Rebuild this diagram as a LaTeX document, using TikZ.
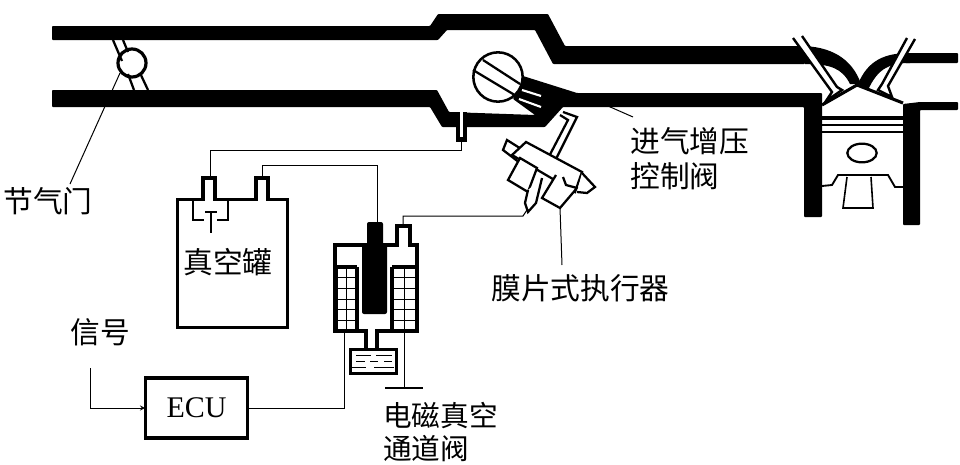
\documentclass[tikz,border=0pt]{standalone}
\usepackage{fontspec}
\usetikzlibrary{shapes.geometric}
\setmainfont{Liberation Serif}
\newfontfamily\cjk{Noto Sans CJK SC}
\tikzset{
  wall/.style={line width=2.3pt, line join=miter},
  thinwall/.style={line width=1.7pt},
  stem/.style={line width=1.8pt, fill=white},
  wire/.style={line width=.75pt},
  lbl/.style={inner sep=0pt, font=\cjk\fontsize{22.3}{26}\selectfont, align=left},
  pipe/.style={fill=black, rounded corners=.6pt}
}
\begin{document}
\begin{tikzpicture}[x=.75pt, y=-.75pt]
\useasboundingbox (0,0) rectangle (960,464);

% intake pipe
\fill[pipe] (52,26) -- (430,26) -- (438,14) -- (548,14) -- (565,46) -- (805,46) -- (805,64) -- (553,64) -- (535,30) -- (447,30) -- (438,40) -- (52,40) -- cycle;
\fill[pipe] (52,90) -- (437,90) -- (449,112) -- (535,115) -- (513,99) -- (523,76) -- (577,93) -- (804,93) -- (822,93) -- (822,217) -- (804,217) -- (804,107) -- (563,107) -- (545,127) -- (442,127) -- (430,107) -- (52,107) -- cycle;
\fill[pipe] (903,104) -- (920,102) -- (958,102) -- (958,110) -- (920,110) -- (920,225) -- (903,225) -- cycle;
\fill[pipe] (905,53) -- (958,53) -- (958,63) -- (905,63) -- cycle;

% ports to the cylinder
\fill (800,46) .. controls (830,46) and (852,58) .. (861,84) -- (850,84) .. controls (842,68) and (830,64) .. (805,64) -- cycle;
\fill (858,84) .. controls (868,60) and (885,53) .. (910,53) -- (910,63) .. controls (890,63) and (878,68) .. (868,90) -- cycle;

% bypass slot under the pipe
\fill[black] (456,112) rectangle (467,142);
\draw[white, line width=2.2pt] (461.5,110) -- (461.5,137);

% throttle
\node (throttle) [circle, draw, fill=white, line width=2.4pt, minimum size=21pt, inner sep=0pt] at (132,63) {};
\draw[thinwall] (113,40) -- (122,61);
\draw[thinwall] (123,40) -- (128,52);
\draw[thinwall] (128,74) -- (134,90);
\draw[thinwall] (140,73) -- (148,90);

% bypass valve
\draw[white, line width=1.6pt] (522,90) -- (541,96);
\draw[white, line width=1.6pt] (519,99) -- (541,107);
\node (valve) [circle, draw, fill=white, line width=1.9pt, minimum size=37pt, inner sep=0pt] at (498,77) {};
\draw[line width=1.7pt] (483,60) -- (520,84);
\draw[line width=1.7pt] (473,70) -- (518,97);

% actuator
\draw[thinwall, fill=white] (563,112) -- (577,117) -- (552,167) -- (544,166) -- (568,120) -- (560,115);
\draw[thinwall, fill=white] (507,140) -- (503,150) -- (520,163) -- (526,152) -- cycle;
\draw[thinwall, fill=white] (526,142) -- (582,172) -- (575,192) -- (512,155) -- cycle;
\draw[thinwall, fill=white] (520,158) -- (508,180) -- (528,192) -- (537,168) -- cycle;
\draw[thinwall, fill=white] (528,190) -- (525,203) -- (528,212) -- (536,203) -- (542,178);
\draw[thinwall, fill=white] (556,175) -- (542,198) -- (560,208) -- (577,188) -- (566,185) -- (563,177);
\draw[thinwall, fill=white] (582,173) -- (595,187) -- (587,193) -- (577,192);

% piston
\draw[wall] (822,105) -- (857,85) -- (903,103);
\draw[line width=2.6pt] (822,118) -- (903,118);
\draw[line width=1.6pt] (822,125) -- (903,125);
\draw[line width=1.6pt] (822,132) -- (903,132);
\node (pin) [ellipse, draw, line width=1.7pt, minimum width=22pt, minimum height=14pt, inner sep=0pt] at (862,153) {};
\draw[line width=1.4pt] (822,186) -- (832,185) -- (838,175) -- (888,175) -- (895,187) -- (903,187);
\draw[line width=1.2pt] (847,177) -- (843,208) -- (873,208) -- (871,177);

% valve stems
\draw[stem] (793,38) -- (832,92) -- (826,101) -- (842,90) -- (837,87) -- (802,36);
\draw[stem] (907,38) -- (882,84) -- (878,90) -- (892,97) -- (888,86) -- (915,39);

% tank
\node (tank) [rectangle, draw, wall, minimum width=83pt, minimum height=96.5pt, outer sep=0pt] at (232.5,263.5) {};
\draw[wall, fill=white] (203,199) -- (203,178) -- (215,178) -- (215,199);
\draw[wall, fill=white] (256,199) -- (256,178) -- (268,178) -- (268,199);
\coordinate (neckA) at (210,178);
\coordinate (neckB) at (262,178);
\draw[white, line width=3pt] (205,199) -- (213,199);
\draw[white, line width=3pt] (258,199) -- (266,199);
\draw[thinwall] (193,200) -- (193,220) -- (204,220);
\draw[thinwall] (228,200) -- (228,220) -- (217,220);
\draw[line width=2pt] (205,212) -- (217,212);
\draw[line width=2pt] (211,212) -- (211,233);
\node (tanktext) [lbl] at (228,262) {真空罐};

% solenoid valve
\draw[wall, fill=white] (335,331) -- (335,245) -- (397,245) -- (397,226) -- (410,226) -- (410,245) -- (417,245) -- (417,331) -- cycle;
\draw[white, line width=3pt] (399,245) -- (408,245);
\fill[rounded corners=1.5pt] (367,222) -- (383,222) -- (383,245) -- (387,245) -- (387,314) -- (362,314) -- (362,245) -- (367,245) -- cycle;
\foreach \cx/\cw in {337/19, 393/23} {
  \draw[thinwall] (\cx,267) rectangle ++(\cw,64);
  \foreach \i in {1,...,5} \draw[line width=.7pt] (\cx,267+\i*10.7) -- ++(\cw,0);
  \draw[line width=.7pt] (\cx+\cw/2,267) -- ++(0,64);
}
\draw[wall] (357,267) -- (335,267);
\draw[wall] (392,267) -- (417,267);
\draw[wall] (357,267) -- (357,331);
\draw[wall] (392,267) -- (392,331);
\coordinate (coreTop) at (377,222);
\coordinate (neckC) at (403,226);
\draw[wall] (366,331) -- (366,349);
\draw[wall] (377,331) -- (377,349);
\draw[white, line width=3pt] (368,331) -- (375,331);
\node (cup) [rectangle, draw, wall, minimum width=34pt, minimum height=18pt, outer sep=0pt] at (373.5,361.5) {};
\foreach \y/\xa/\xb in {355/356/371, 355/376/392, 361/356/365, 361/370/378, 361/384/392, 367/352/366, 367/374/394}
  \draw[line width=.7pt] (\xa,\y) -- (\xb,\y);
\coordinate (coilA) at (344,331);
\coordinate (coilB) at (404,331);
\coordinate (earth) at (404,388);
\draw[line width=2.2pt] (385,388) -- (423,388);
\draw[wire] (coilB) -- (earth);

% ECU
\node (ecu) [rectangle, draw, wall, minimum width=77pt, minimum height=45pt, font=\fontsize{22.5}{24}\selectfont, outer sep=0pt] at (196.5,408) {ECU};
\coordinate (sig) at (90,368);
\draw[wire, ->, >=stealth] (sig) |- (ecu.west);
\draw[wire] (ecu.east) -| (coilA);

% wires
\coordinate (slot) at (461,142);
\coordinate (tip) at (527,210);
\draw[wire] (neckA) |- (slot |- 0,150) -- (slot);
\draw[wire] (neckB) |- (coreTop |- 0,165) -- (coreTop);
\draw[wire] (neckC) |- (523,216) -- (tip);

% leaders
\coordinate (a) at (120,73);
\coordinate (b) at (70,184);
\coordinate (c) at (608,106);
\coordinate (d) at (633,117);
\coordinate (e) at (560,208);
\coordinate (f) at (562,265);
\draw[wire] (a) -- (b);
\draw[wire] (c) -- (d);
\draw[wire] (e) -- (f);

% labels
\node (throttletext) [lbl] at (48,201) {节气门};
\node (sigtext) [lbl] at (100,332) {信号};
\node (boosttext) [lbl, anchor=west] at (630,158.5) {进气增压\\控制阀};
\node (acttext) [lbl, anchor=west] at (491,288) {膜片式执行器};
\node (soltext) [lbl, anchor=west, font=\cjk\fontsize{21.5}{25}\selectfont] at (383,432) {电磁真空\\通道阀};
\end{tikzpicture}
\end{document}
